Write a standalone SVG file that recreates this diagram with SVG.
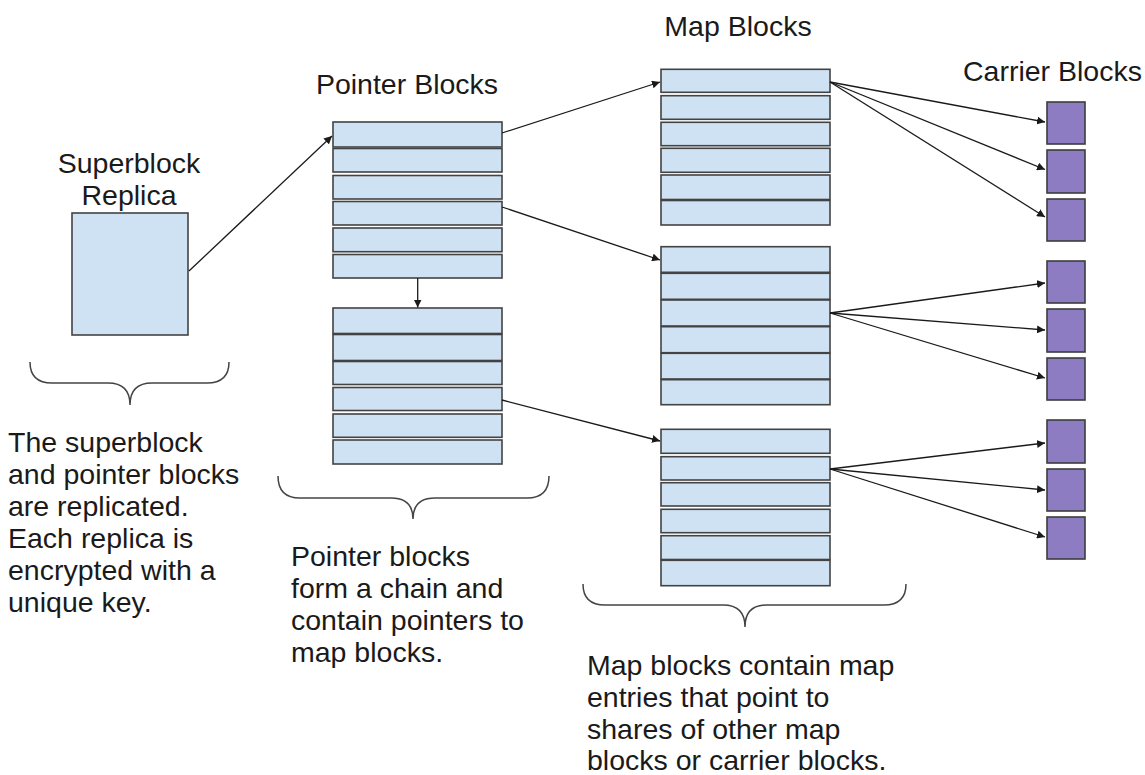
<svg xmlns="http://www.w3.org/2000/svg" width="1145" height="775" viewBox="0 0 1145 775">
<defs>
<style>
.blk{fill:#cfe2f3;stroke:#434343;stroke-width:1.6}
.car{fill:#8e7cc3;stroke:#3d3d3d;stroke-width:1.6}
.t{font-family:"Liberation Sans",Arial,sans-serif;font-size:28.5px;fill:#1a1a1a}
.c{stroke:#1a1a1a;stroke-width:1.3;fill:none;marker-end:url(#ah)}
.br{stroke:#444;stroke-width:1.5;fill:none}
</style>
<marker id="ah" viewBox="0 0 10 10" refX="10" refY="5" markerWidth="8" markerHeight="8" markerUnits="userSpaceOnUse" orient="auto">
<path d="M0,0 L10,5 L0,10 z" fill="#1a1a1a"/>
</marker>
</defs>
<rect width="1145" height="775" fill="#fff"/>

<g id="superblock">
<rect class="blk" x="72" y="213" width="116" height="122"/>
<text class="t" x="129" y="173" text-anchor="middle">Superblock</text>
<text class="t" x="129" y="205" text-anchor="middle">Replica</text>
</g>

<g id="pointer-blocks-1">
<rect class="blk" x="333" y="122" width="169" height="25"/>
<rect class="blk" x="333" y="148.5" width="169" height="23.5"/>
<rect class="blk" x="333" y="175.5" width="169" height="23.5"/>
<rect class="blk" x="333" y="201.5" width="169" height="23.5"/>
<rect class="blk" x="333" y="228" width="169" height="23.7"/>
<rect class="blk" x="333" y="254.5" width="169" height="23.5"/>
</g>
<text class="t" x="407" y="94" text-anchor="middle">Pointer Blocks</text>

<g id="pointer-blocks-2">
<rect class="blk" x="333" y="308" width="169" height="25.5"/>
<rect class="blk" x="333" y="334.5" width="169" height="26"/>
<rect class="blk" x="333" y="361.5" width="169" height="23"/>
<rect class="blk" x="333" y="387.5" width="169" height="23"/>
<rect class="blk" x="333" y="414" width="169" height="23.3"/>
<rect class="blk" x="333" y="440" width="169" height="24"/>
</g>

<g id="map-blocks-1">
<rect class="blk" x="661" y="69.3" width="169" height="23"/>
<rect class="blk" x="661" y="95.7" width="169" height="23.6"/>
<rect class="blk" x="661" y="122.3" width="169" height="23.4"/>
<rect class="blk" x="661" y="148.3" width="169" height="24"/>
<rect class="blk" x="661" y="175" width="169" height="24.5"/>
<rect class="blk" x="661" y="200.5" width="169" height="24.5"/>
</g>
<text class="t" x="738" y="36" text-anchor="middle">Map Blocks</text>

<g id="map-blocks-2">
<rect class="blk" x="661" y="246.7" width="169" height="25.6"/>
<rect class="blk" x="661" y="273.3" width="169" height="26"/>
<rect class="blk" x="661" y="300" width="169" height="26"/>
<rect class="blk" x="661" y="326.7" width="169" height="26"/>
<rect class="blk" x="661" y="353.3" width="169" height="25.7"/>
<rect class="blk" x="661" y="379.7" width="169" height="25"/>
</g>

<g id="map-blocks-3">
<rect class="blk" x="661" y="429.3" width="169" height="24"/>
<rect class="blk" x="661" y="456.7" width="169" height="23.3"/>
<rect class="blk" x="661" y="482.7" width="169" height="23.3"/>
<rect class="blk" x="661" y="509.3" width="169" height="23.4"/>
<rect class="blk" x="661" y="535.7" width="169" height="23.8"/>
<rect class="blk" x="661" y="560.3" width="169" height="25.4"/>
</g>

<g id="carrier-blocks">
<rect class="car" x="1047" y="102" width="38" height="42"/>
<rect class="car" x="1047" y="150" width="38" height="43"/>
<rect class="car" x="1047" y="199" width="38" height="42"/>
<rect class="car" x="1047" y="261" width="38" height="42"/>
<rect class="car" x="1047" y="309" width="38" height="43"/>
<rect class="car" x="1047" y="358" width="38" height="42"/>
<rect class="car" x="1047" y="420" width="38" height="43"/>
<rect class="car" x="1047" y="469" width="38" height="42"/>
<rect class="car" x="1047" y="517" width="38" height="42"/>
</g>
<text class="t" x="963" y="81">Carrier Blocks</text>

<g id="connectors">
<line class="c" x1="189" y1="271" x2="332" y2="136"/>
<line class="c" x1="502" y1="133" x2="660" y2="82"/>
<line class="c" x1="502" y1="207" x2="660" y2="260"/>
<line class="c" x1="417.7" y1="278" x2="417.7" y2="307.5"/>
<line class="c" x1="502" y1="400" x2="660" y2="441"/>
<line class="c" x1="830" y1="82" x2="1045" y2="122"/>
<line class="c" x1="830" y1="82" x2="1045" y2="169.5"/>
<line class="c" x1="830" y1="82" x2="1045" y2="217"/>
<line class="c" x1="830" y1="313" x2="1045" y2="283"/>
<line class="c" x1="830" y1="313" x2="1045" y2="330"/>
<line class="c" x1="830" y1="313" x2="1045" y2="378"/>
<line class="c" x1="830" y1="469" x2="1045" y2="443"/>
<line class="c" x1="830" y1="469" x2="1045" y2="490"/>
<line class="c" x1="830" y1="469" x2="1045" y2="537"/>
</g>

<g id="brace-1">
<path class="br" d="M30,362 Q30,383 52,383 L108,383 Q130,383 130,405 Q130,383 152,383 L207,383 Q229,383 229,362"/>
<text class="t" x="8" y="452">The superblock</text>
<text class="t" x="8" y="484">and pointer blocks</text>
<text class="t" x="8" y="516">are replicated.</text>
<text class="t" x="8" y="548">Each replica is</text>
<text class="t" x="8" y="580">encrypted with a</text>
<text class="t" x="8" y="612">unique key.</text>
</g>

<g id="brace-2">
<path class="br" d="M278,476 Q278,498 300,498 L391,498 Q413,498 413,519 Q413,498 435,498 L527,498 Q549,498 549,476"/>
<text class="t" x="291" y="566">Pointer blocks</text>
<text class="t" x="291" y="598">form a chain and</text>
<text class="t" x="291" y="630">contain pointers to</text>
<text class="t" x="291" y="662">map blocks.</text>
</g>

<g id="brace-3">
<path class="br" d="M583,584 Q583,605 605,605 L723,605 Q745,605 745,627 Q745,605 767,605 L884,605 Q906,605 906,584"/>
<text class="t" x="587" y="675">Map blocks contain map</text>
<text class="t" x="587" y="707">entries that point to</text>
<text class="t" x="587" y="739">shares of other map</text>
<text class="t" x="587" y="770">blocks or carrier blocks.</text>
</g>
</svg>
